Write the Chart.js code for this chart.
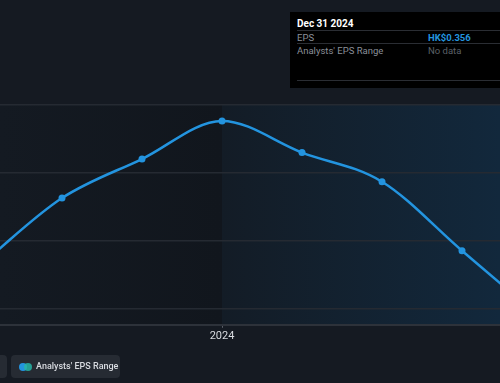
<!DOCTYPE html>
<html>
<head>
<meta charset="utf-8">
<script src="https://cdn.jsdelivr.net/npm/chart.js@4"></script>
<style>
  html, body { margin: 0; padding: 0; background: #151a22; overflow: hidden; }
  #wrap { position: relative; width: 500px; height: 383px; font-family: Roboto, "Noto Sans", sans-serif; }
  canvas { position: absolute; left: 0; top: 0; }
  .tip { position: absolute; left: 290px; top: 12px; width: 230px; height: 76px; background: #000; color: #fff; font-size: 9.5px; }
  .tip .title { position: absolute; left: 7px; top: 6px; font-weight: bold; font-size: 10px; }
  .tip .sep { position: absolute; left: 7px; right: 0; height: 1px; background: #2a2d33; }
  .tip .row { position: absolute; left: 7px; color: #8a8f98; white-space: nowrap; }
  .tip .val { position: absolute; left: 138px; }
  .legend-box { position: absolute; top: 355px; height: 23px; background: #262b33; border-radius: 4px; color: #d8dbe0; font-size: 9px; font-weight: 500; line-height: 23px; white-space: nowrap; }
  .dot { position: absolute; top: 8px; width: 8px; height: 8px; border-radius: 50%; }
</style>
</head>
<body>
<div id="wrap">
  <canvas id="c" width="500" height="383"></canvas>
  <div class="tip">
    <div class="title">Dec 31 2024</div>
    <div class="sep" style="top:18px"></div>
    <div class="row" style="top:20px">EPS</div>
    <div class="row val" style="top:20px;color:#2394df;font-weight:bold">HK$0.356</div>
    <div class="sep" style="top:31px"></div>
    <div class="row" style="top:33px">Analysts' EPS Range</div>
    <div class="row val" style="top:33px;color:#5c6068">No data</div>
    <div class="sep" style="top:68px"></div>
  </div>
  <div class="legend-box" style="left:-60px;width:67px"></div>
  <div class="legend-box" style="left:11px;width:109px">
    <span class="dot" style="left:8px;background:#2394df"></span>
    <span class="dot" style="left:13px;background:#27b5a6;opacity:.85"></span>
    <span style="position:absolute;left:25px">Analysts' EPS Range</span>
  </div>
</div>
<script>
  const YEARS = [2020, 2021, 2022, 2023, 2024, 2025, 2026, 2027];
  const EPS = [0.3233, 0.3426, 0.3541, 0.3653, 0.356, 0.3474, 0.3271, 0.3071];
  const Y_TICKS = [0.31, 0.33, 0.35, 0.37];
  const X_TICKS = [2023];
  const X_LABELS = { 2023: "2024" };
  const FORECAST_START = 2023;

  const bgPlugin = {
    id: "bg",
    beforeDraw(chart) {
      const { ctx, chartArea: a, scales } = chart;
      ctx.save();
      ctx.fillStyle = "#151a22";
      ctx.fillRect(0, 0, chart.width, chart.height);
      const split = scales.x.getPixelForValue(FORECAST_START);
      const lg = ctx.createLinearGradient(a.left, 0, split, 0);
      lg.addColorStop(0, "#141a22");
      lg.addColorStop(1, "#11161d");
      ctx.fillStyle = lg;
      ctx.fillRect(a.left, a.top, split - a.left, a.bottom - a.top);
      const rg = ctx.createLinearGradient(split, 0, a.right, 0);
      rg.addColorStop(0, "#131c26");
      rg.addColorStop(1, "#12283c");
      ctx.fillStyle = rg;
      ctx.fillRect(split, a.top, a.right - split, a.bottom - a.top);
      ctx.restore();
    },
  };

  new Chart(document.getElementById("c"), {
    type: "line",
    data: {
      datasets: [{
        label: "EPS",
        data: YEARS.map((y, i) => ({ x: y, y: EPS[i] })),
        borderColor: "#2394df",
        borderWidth: 2.5,
        pointRadius: 3.5,
        pointBackgroundColor: "#2394df",
        pointBorderWidth: 0,
        cubicInterpolationMode: "monotone",
        fill: false,
      }],
    },
    options: {
      responsive: false,
      animation: false,
      events: [],
      layout: { autoPadding: false, padding: { top: 105, bottom: 38.7, left: 0, right: 0 } },
      plugins: { legend: { display: false }, tooltip: { enabled: false } },
      scales: {
        x: {
          type: "linear",
          min: 2023 - 222 / 80,
          max: 2023 + 278 / 80,
          afterBuildTicks: (s) => { s.ticks = X_TICKS.map((v) => ({ value: v })); },
          ticks: {
            color: "#d8dbe0",
            font: { family: "Roboto", size: 11, lineHeight: 1.5 },
            padding: 0,
            maxRotation: 0,
            callback: (v) => X_LABELS[v] || "",
          },
          grid: { drawOnChartArea: false, drawTicks: true, tickLength: 3, color: "#5a5f68" },
          border: { display: true, color: "#2d323a", width: 2 },
        },
        y: {
          min: 0.37 - (220 / 68) * 0.02,
          max: 0.37,
          afterBuildTicks: (s) => { s.ticks = Y_TICKS.map((v) => ({ value: v })); },
          ticks: { display: false },
          grid: { color: "#252a32", lineWidth: 1.5, drawTicks: false },
          border: { display: false },
        },
      },
    },
    plugins: [bgPlugin],
  });
</script>
</body>
</html>
